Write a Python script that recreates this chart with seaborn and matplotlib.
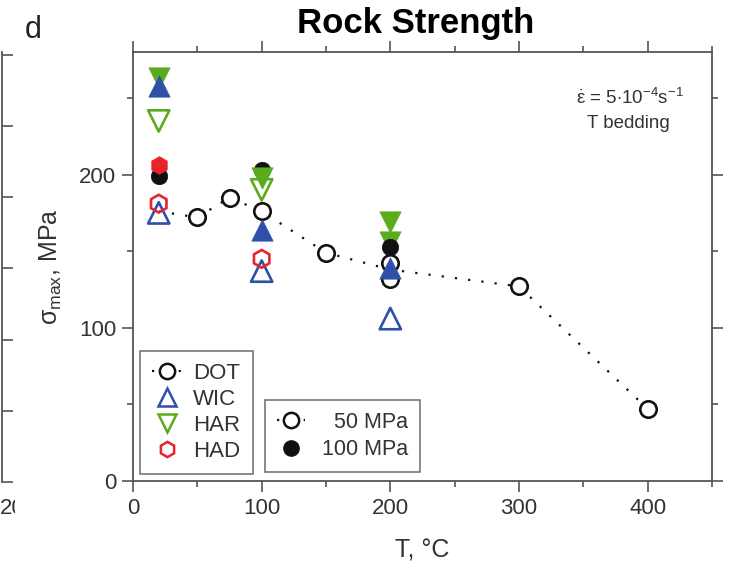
import matplotlib
matplotlib.use("Agg")
import matplotlib.pyplot as plt
from matplotlib.lines import Line2D
from matplotlib.ticker import MultipleLocator
from matplotlib.transforms import Bbox, TransformedBbox
import seaborn as sns
import pandas as pd

# ---- data: peak strength vs temperature ----
# DOT, 50 MPa confining pressure (open circles) and its dotted trend
dot50_T = [50, 75, 100, 150, 200, 200, 300, 400]
dot50_s = [172, 185, 176, 149, 142, 132, 127, 47]
trend_T = [20, 50, 75, 100, 150, 200, 300, 400]
trend_s = [176, 172, 185, 176, 149, 138, 127, 47]

dot100_T = [20, 100, 200]
dot100_s = [199, 203, 153]

wic50_T = [20, 100, 200]
wic50_s = [175, 137, 106]
wic100_T = [20, 100, 200]
wic100_s = [258, 164, 139]

har50_T = [20, 100]
har50_s = [235, 190]
har100_T = [20, 100, 200, 200]
har100_s = [263, 198, 169, 156]

had50_T = [20, 100]
had50_s = [181, 145]
had100_T = [20]
had100_s = [206]

rock_names = ["DOT", "WIC", "HAR", "HAD"]
pressure_names = ["\u200750 MPa", "100 MPa"]

C_DOT = "#111111"
C_WIC = "#2f4fa8"
C_HAR = "#5bab1f"
C_HAD = "#e8232b"

sns.set_theme(style="ticks")
plt.rcParams["font.family"] = ["Liberation Sans", "DejaVu Sans"]
plt.rcParams["mathtext.fontset"] = "custom"
plt.rcParams["mathtext.rm"] = "Liberation Sans"
plt.rcParams["mathtext.it"] = "Liberation Sans:italic"
plt.rcParams["axes.edgecolor"] = "#555555"
plt.rcParams["xtick.color"] = "#555555"
plt.rcParams["ytick.color"] = "#555555"
plt.rcParams["xtick.labelcolor"] = "#333333"
plt.rcParams["ytick.labelcolor"] = "#333333"

W, H = 731, 561
fig = plt.figure(figsize=(W / 100, H / 100), dpi=100)

# neighbouring panel (only its right edge is in view)
ax0 = fig.add_axes([-0.5, 1 - 482 / H, 0.5 + 2 / W, 430 / H])
ax0.set_ylim(0, 302)
ax0.set_xlim(0, 1)
for s in ["top", "left", "bottom"]:
    ax0.spines[s].set_visible(False)
ax0.spines["right"].set_linewidth(1.3)
ax0.yaxis.set_major_locator(MultipleLocator(50))
ax0.tick_params(axis="y", left=False, right=True, labelleft=False,
                labelright=False, length=8, width=1.2, direction="out")
ax0.set_xticks([])
ax0.patch.set_alpha(0)
t0 = fig.text(0 / W, 1 - 514 / H, "200", fontsize=16, color="#333333",
              ha="left", va="baseline")
t0.set_clip_box(TransformedBbox(Bbox([[0, 0], [15 / W, 1]]), fig.transFigure))

ax = fig.add_axes([133 / W, 1 - 481 / H, (712 - 133) / W, (481 - 52) / H])

dot_style = dict(linestyle=(0, (1, 5)), linewidth=1.6, color=C_DOT)

# dotted trend through the 50 MPa DOT series
sns.lineplot(x=trend_T, y=trend_s, errorbar=None, ax=ax, zorder=1, **dot_style)

sz = {"o": 140, "^": 235, "v": 235, "h": 165}
open_kw = dict(facecolor="none", linewidth=1.9, ax=ax, zorder=3)
fill_kw = dict(linewidth=0.5, ax=ax)

# filled symbols: 100 MPa
har100 = pd.DataFrame({"T": har100_T, "s": har100_s})
lower = har100["s"] < 160
sns.scatterplot(data=har100[lower], x="T", y="s", marker="v", s=sz["v"],
                color=C_HAR, edgecolor=C_HAR, zorder=1.8, **fill_kw)
sns.scatterplot(x=dot100_T, y=dot100_s, marker="o", s=sz["o"], color=C_DOT,
                edgecolor=C_DOT, zorder=2.0, **fill_kw)
sns.scatterplot(data=har100[~lower], x="T", y="s", marker="v", s=sz["v"],
                color=C_HAR, edgecolor=C_HAR, zorder=2.1, **fill_kw)
sns.scatterplot(x=wic100_T, y=wic100_s, marker="^", s=sz["^"], color=C_WIC,
                edgecolor=C_WIC, zorder=2.2, **fill_kw)
sns.scatterplot(x=had100_T, y=had100_s, marker="h", s=sz["h"], color=C_HAD,
                edgecolor=C_HAD, zorder=2.2, **fill_kw)

# open symbols: 50 MPa
sns.scatterplot(x=dot50_T, y=dot50_s, marker="o", s=sz["o"], color=C_DOT,
                edgecolor=C_DOT, facecolor="white", linewidth=1.9, ax=ax,
                zorder=1.5)
sns.scatterplot(x=wic50_T, y=wic50_s, marker="^", s=sz["^"], color=C_WIC,
                edgecolor=C_WIC, **open_kw)
sns.scatterplot(x=har50_T, y=har50_s, marker="v", s=sz["v"], color=C_HAR,
                edgecolor=C_HAR, **open_kw)
sns.scatterplot(x=had50_T, y=had50_s, marker="h", s=sz["h"], color=C_HAD,
                edgecolor=C_HAD, **open_kw)

ax.set_xlim(0, 450)
ax.set_ylim(0, 280)
ax.xaxis.set_major_locator(MultipleLocator(100))
ax.xaxis.set_minor_locator(MultipleLocator(50))
ax.yaxis.set_major_locator(MultipleLocator(100))
ax.yaxis.set_minor_locator(MultipleLocator(50))
for s in ax.spines.values():
    s.set_visible(True)
    s.set_linewidth(1.3)
ax.tick_params(which="both", direction="out", top=True, right=True,
               labeltop=False, labelright=False, width=1.2)
ax.tick_params(which="major", length=8, labelsize=16, pad=4)
ax.tick_params(which="minor", length=4)

ax.set_xlabel("T, \u00b0C", fontsize=18, color="#333333", labelpad=14)
ax.set_ylabel(r"$\mathregular{\sigma_{max}}$, MPa", fontsize=18,
              color="#333333", labelpad=11)

ms = 11
mt = 12.5
leg1_handles = [
    Line2D([], [], marker="o", markersize=ms, markerfacecolor="white",
           markeredgecolor=C_DOT, markeredgewidth=1.8, **dot_style),
    Line2D([], [], marker="^", markersize=mt, markerfacecolor="none",
           markeredgecolor=C_WIC, markeredgewidth=1.8, linestyle="none"),
    Line2D([], [], marker="v", markersize=mt, markerfacecolor="none",
           markeredgecolor=C_HAR, markeredgewidth=1.8, linestyle="none"),
    Line2D([], [], marker="h", markersize=ms, markerfacecolor="none",
           markeredgecolor=C_HAD, markeredgewidth=1.8, linestyle="none"),
]
leg1 = ax.legend(leg1_handles, rock_names, loc="lower left",
                 bbox_to_anchor=(0.012, 0.016), fontsize=16,
                 handlelength=1.3, handletextpad=0.55, labelspacing=0.22,
                 borderpad=0.55, borderaxespad=0, fancybox=False,
                 framealpha=1, edgecolor="#777777")
leg1.get_frame().set_linewidth(1.2)
for t in leg1.get_texts():
    t.set_color("#333333")
ax.add_artist(leg1)

leg2_handles = [
    Line2D([], [], marker="o", markersize=ms, markerfacecolor="white",
           markeredgecolor=C_DOT, markeredgewidth=1.8, **dot_style),
    Line2D([], [], marker="o", markersize=ms, markerfacecolor=C_DOT,
           markeredgecolor=C_DOT, linestyle="none"),
]
leg2 = ax.legend(leg2_handles, pressure_names, loc="lower left",
                 bbox_to_anchor=(0.228, 0.021), fontsize=15.5,
                 handlelength=1.3, handletextpad=0.8, labelspacing=0.3,
                 borderpad=0.55, borderaxespad=0, fancybox=False,
                 framealpha=1, edgecolor="#777777")
leg2.get_frame().set_linewidth(1.2)
for t in leg2.get_texts():
    t.set_color("#333333")

# test conditions
fig.text(630 / W, 1 - 104 / H,
         r"$\mathregular{\dot{\varepsilon}}$ = 5$\cdot$10$^{-4}$s$^{-1}$",
         fontsize=13.5, color="#333333", ha="center", va="baseline")
fig.text(628 / W, 1 - 128 / H, "T bedding", fontsize=13.5, color="#333333",
         ha="center", va="baseline")

fig.text(416 / W, 1 - 33 / H, "Rock Strength", fontsize=25, fontweight="bold",
         color="black", ha="center", va="baseline")
fig.text(25 / W, 1 - 38 / H, "d", fontsize=22, color="#222222",
         ha="left", va="baseline")

fig.savefig("out.png", dpi=100)
